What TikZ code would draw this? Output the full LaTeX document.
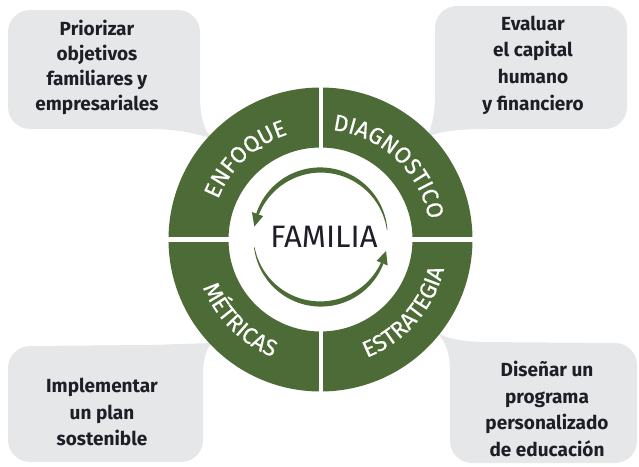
\documentclass[tikz,border=0pt]{standalone}
\usepackage{fontspec}
\setmainfont{Fira Sans}
\usetikzlibrary{decorations.text}
\definecolor{ringgreen}{HTML}{4D6B37}
\definecolor{calloutgray}{HTML}{E6E7E8}
\definecolor{inktext}{HTML}{1E1F26}
\newfontfamily\ringfamily[FakeBold=0.25]{Fira Sans}
\newcommand\ringlabelfont{\color{white}\ringfamily\fontsize{23}{23}\selectfont}
\begin{document}
\begin{tikzpicture}[x=1pt,y=1pt,
  callout/.style={fill=calloutgray},
  callouttext/.style={align=center, text=inktext, font=\bfseries\fontsize{19}{26.7}\selectfont, inner sep=0pt},
  ringlabel/.style={decorate, decoration={text along path, text align=center, text format delimiters={|}{|}, text={|\ringlabelfont|#1}}},
  gapline/.style={white, line width=4.5pt},
  arrowfill/.style={fill=ringgreen}
]
\useasboundingbox (0,0) rectangle (639,466);
\coordinate (C) at (320.5,226.5);
\coordinate (A) at (320.5,229);
% callouts
\fill[callout] (8,434) arc[start angle=180,end angle=90,radius=22] -- (178,456) arc[start angle=90,end angle=0,radius=22] -- (200,371) .. controls (200,346) and (205,334) .. (213,327) .. controls (195,333) and (175,337) .. (150,337) -- (30,337) arc[start angle=270,end angle=180,radius=22] -- cycle;
\fill[callout] (457,460) -- (605,460) arc[start angle=90,end angle=0,radius=22] -- (627,359) arc[start angle=0,end angle=-90,radius=22] -- (490,337) .. controls (460,337) and (440,335) .. (427,329) .. controls (432,340) and (435,352) .. (435,372) -- (435,438) arc[start angle=180,end angle=90,radius=22] -- cycle;
\fill[callout] (8,98) -- (8,26) arc[start angle=180,end angle=270,radius=22] -- (181,4) arc[start angle=270,end angle=360,radius=22] -- (203,96) .. controls (204,110) and (207,118) .. (212,123) -- (150,121) -- (30,120) arc[start angle=90,end angle=180,radius=22] -- cycle;
\fill[callout] (436,134) .. controls (446,125) and (450,112) .. (450,95) -- (450,25) arc[start angle=180,end angle=270,radius=22] -- (615,3) arc[start angle=270,end angle=360,radius=22] -- (637,101) arc[start angle=0,end angle=90,radius=22] -- (480,124) .. controls (460,125) and (445,128) .. (436,134) -- cycle;
% ring
\fill[ringgreen, even odd rule] (C) circle[radius=152] (C) circle[radius=92];
\draw[gapline] (321,72) -- (321,381);
\draw[gapline] (167,226.5) -- (474,226.5);
% ring labels
\path[ringlabel=ENFOQUE] ([shift={(195:110)}]C) arc[start angle=195, end angle=71, radius=110];
\path[ringlabel=DIAGNOSTICO] ([shift={(117:110)}]C) arc[start angle=117, end angle=-23, radius=110];
\path[ringlabel=MÉTRICAS] ([shift={(165:127)}]C) arc[start angle=165, end angle=285, radius=127];
\path[ringlabel=ESTRATEGIA] ([shift={(259:127)}]C) arc[start angle=259, end angle=379, radius=127];
% inner arrows
\fill[arrowfill] plot[domain=6:160, samples=60, variable=\t] ({320.5+(67+0.5*(0.6+4.6*sin((\t-6)/184*180)))*cos(\t)}, {229+(67+0.5*(0.6+4.6*sin((\t-6)/184*180)))*sin(\t)}) -- plot[domain=160:6, samples=60, variable=\t] ({320.5+(67-0.5*(0.6+4.6*sin((\t-6)/184*180)))*cos(\t)}, {229+(67-0.5*(0.6+4.6*sin((\t-6)/184*180)))*sin(\t)}) -- cycle;
\fill[arrowfill] ([shift={(160:73)}]A) -- ([shift={(171:67)}]A) -- ([shift={(160:61)}]A) -- cycle;
\fill[arrowfill] plot[domain=189:337, samples=60, variable=\t] ({320.5+(67+0.5*(0.6+4.6*sin((\t-189)/175*180)))*cos(\t)}, {229+(67+0.5*(0.6+4.6*sin((\t-189)/175*180)))*sin(\t)}) -- plot[domain=337:189, samples=60, variable=\t] ({320.5+(67-0.5*(0.6+4.6*sin((\t-189)/175*180)))*cos(\t)}, {229+(67-0.5*(0.6+4.6*sin((\t-189)/175*180)))*sin(\t)}) -- cycle;
\fill[arrowfill] ([shift={(337:73)}]A) -- ([shift={(348:67)}]A) -- ([shift={(337:61)}]A) -- cycle;
% center text
\node[text=inktext, font=\fontsize{31}{31}\selectfont, inner sep=0pt] (familia) at (324,229) {FAMILIA};
% callout texts
\node[callouttext, font=\bfseries\fontsize{19}{25}\selectfont] (tl) at (97,398.5) {Priorizar\\objetivos\\familiares y\\empresariales};
\node[callouttext] (tr) at (533,401) {Evaluar\\el capital\\humano\\y financiero};
\node[callouttext] (bl) at (102,54) {Implementar\\un plan\\sostenible};
\node[callouttext] (br) at (547,57) {Diseñar un\\programa\\personalizado\\de educación};
\end{tikzpicture}
\end{document}
